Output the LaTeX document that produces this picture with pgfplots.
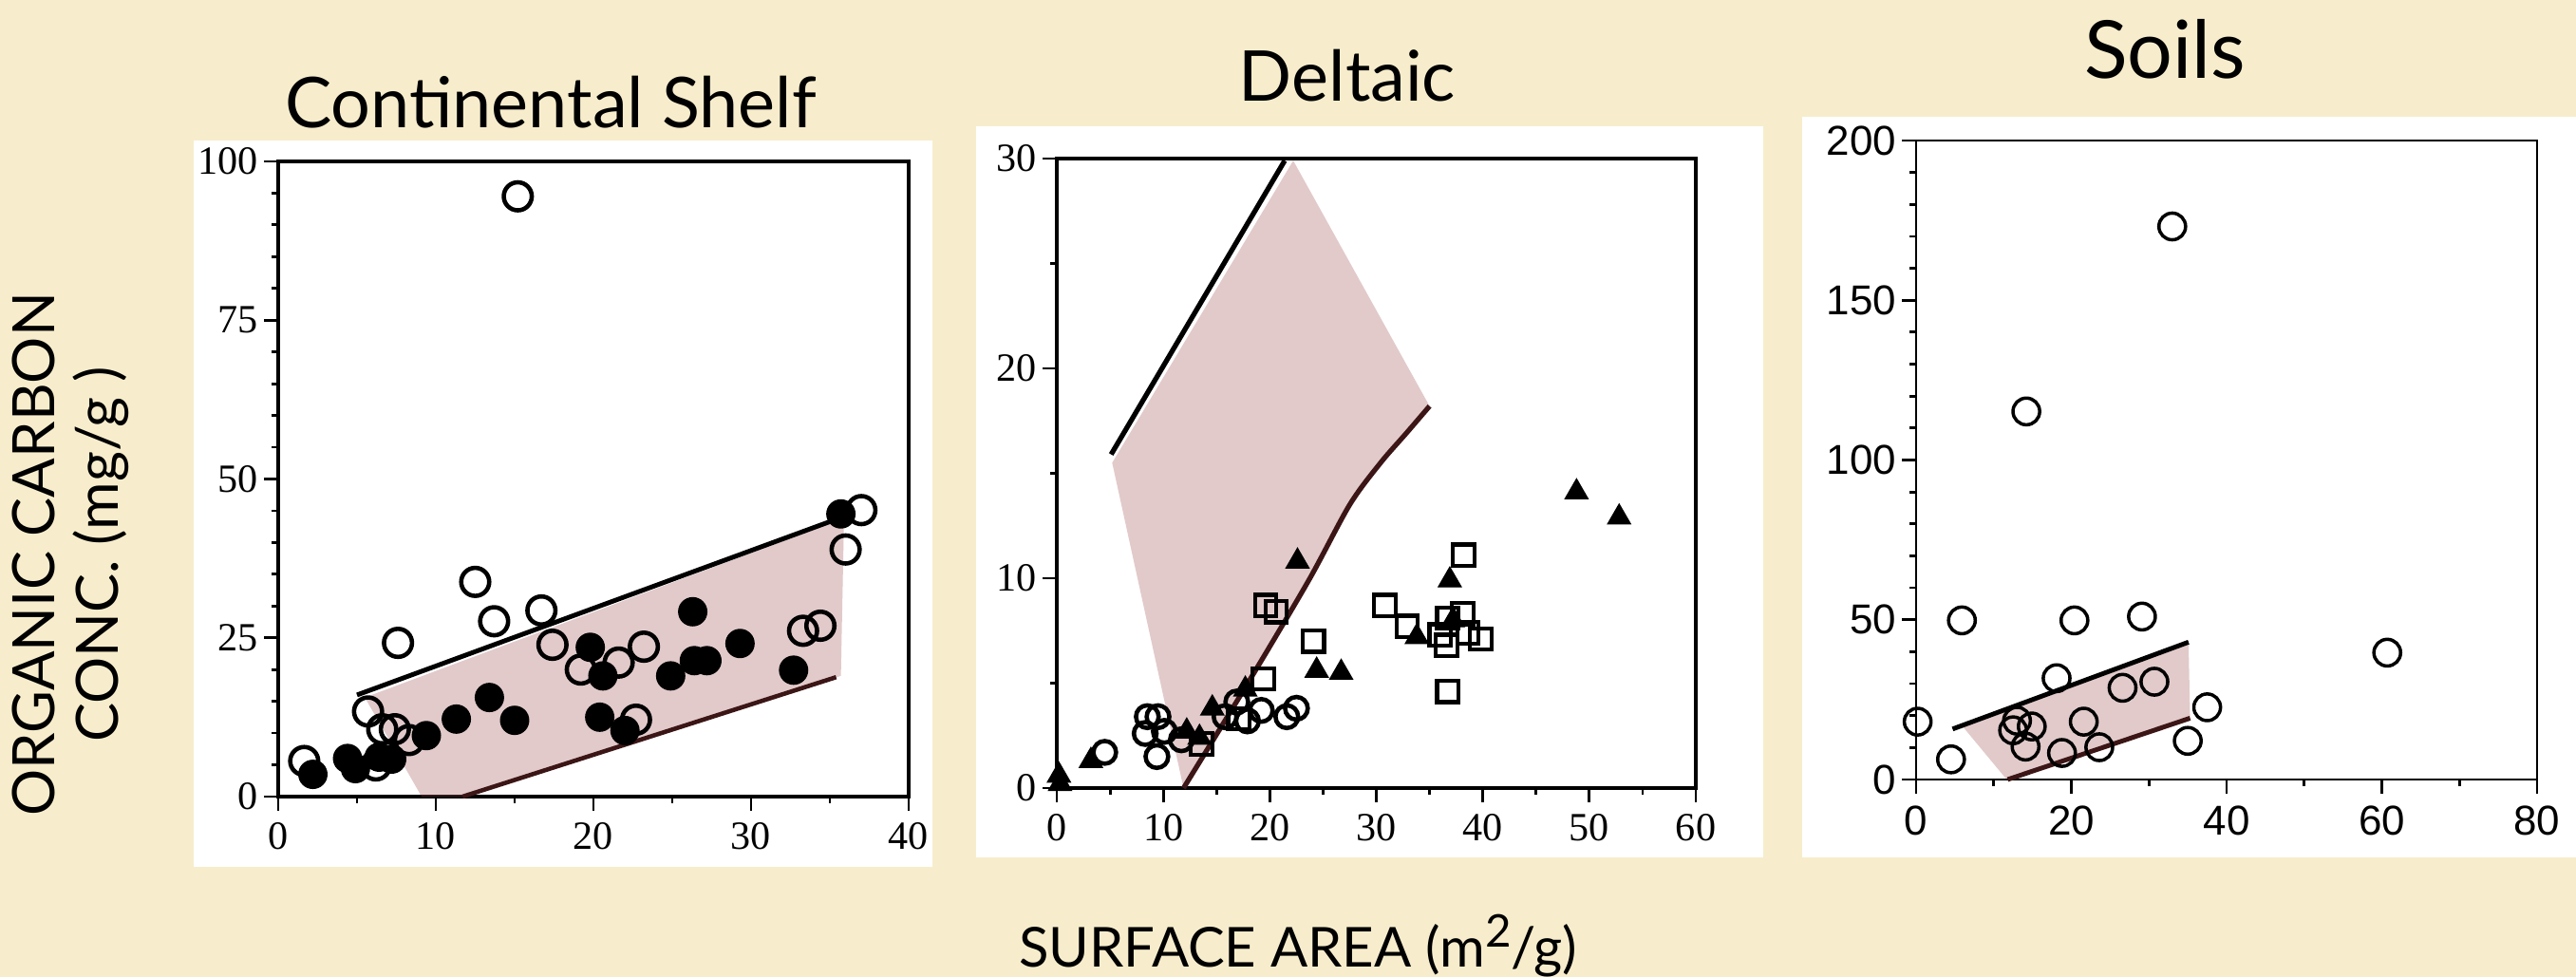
\documentclass[border=0pt]{standalone}
\usepackage{fontspec}
\setmainfont{Lato}
\newfontfamily\tickserif{Liberation Serif}
\newfontfamily\ticksans{Liberation Sans}
\usepackage{pgfplots}
\pgfplotsset{compat=1.18}

\definecolor{bgbeige}{RGB}{247,237,204}
\definecolor{shade}{RGB}{160,80,80}
\definecolor{darkline}{RGB}{60,22,22}

\pgfplotsset{
  panel/.style={
    scale only axis, clip=false, anchor=south west,
    axis line style={line width=0.9pt},
    tick align=outside, xtick pos=left, ytick pos=left,
    major tick length=0.15cm, minor tick length=0.07cm,
    tick style={line width=0.8pt, black},
    /pgf/number format/assume math mode=true,
    tick label style={font=\tickserif\fontsize{12}{12}\selectfont},
    yticklabel style={inner sep=1.5pt},
  },
  ocirc/.style={only marks, mark=o, mark size=4.2pt, mark options={line width=1.3pt}, black},
  fcirc/.style={only marks, mark=*, mark size=4.2pt, black},
  band/.style={draw=none, fill=shade, fill opacity=0.3, forget plot},
}

\begin{document}
\begin{tikzpicture}
\useasboundingbox (0,0) rectangle (27.13,10.29);
\fill[bgbeige] (0,0) rectangle (27.13,10.29);
\fill[white] (2.04,1.16) rectangle (9.82,8.81);
\fill[white] (10.28,1.26) rectangle (18.57,8.96);
\fill[white] (18.98,1.26) rectangle (27.13,9.06);

% Continental shelf
\begin{axis}[panel, at={(2.93cm,1.90cm)}, width=6.64cm, height=6.69cm,
  xmin=0, xmax=40, ymin=0, ymax=100,
  xtick={0,10,20,30,40}, ytick={0,25,50,75,100},
  minor xtick={5,15,25,35}, minor ytick={5,10,15,20,30,35,40,45,55,60,65,70,80,85,90,95}]
  \addplot[ocirc] coordinates {
    (15.2,94.5) (1.65,5.6) (7.6,24.2) (12.5,33.8) (13.7,27.6) (16.7,29.3)
    (17.4,23.9) (5.7,13.4) (6.6,10.6) (7.4,10.6) (8.3,8.9) (6.2,4.9)
    (19.2,20.0) (21.6,21.1) (23.2,23.6) (22.7,12.1) (33.3,26.1) (34.4,26.9)
    (36.0,38.9) (37.0,45.1)
  };
  \addplot[fcirc] coordinates {
    (2.2,3.5) (4.4,6.0) (4.9,4.4) (6.4,6.2) (7.2,5.9) (9.4,9.6) (11.3,12.2)
    (13.4,15.6) (15.0,12.0) (19.8,23.5) (20.4,12.5) (20.6,19.0) (22.0,10.4)
    (24.9,19.0) (26.3,29.1) (26.4,21.4) (27.2,21.4) (29.3,24.1) (32.7,19.9)
    (35.7,44.5)
  };
  \addplot[band] coordinates {
    (5.5,15.6) (9.1,0) (11.7,0) (35.7,19.0) (35.9,43.8)
  } -- cycle;
  \addplot[black, line width=1.4pt] coordinates {(5.0,16.0) (35.9,44.1)};
  \addplot[darkline, line width=1.3pt] coordinates {(11.7,0) (35.4,18.8)};
\end{axis}

% Deltaic
\begin{axis}[panel, at={(11.13cm,1.99cm)}, width=6.73cm, height=6.63cm,
  xmin=0, xmax=60, ymin=0, ymax=30,
  xtick={0,10,...,60}, ytick={0,10,20,30},
  minor xtick={5,15,...,55}, minor ytick={5,15,25}]
  \addplot[only marks, mark=triangle*, mark size=3.9pt, black] coordinates {
    (0.2,0.6) (0.3,0.2) (3.2,1.3) (22.6,10.8) (36.9,9.9) (48.8,14.1) (52.8,12.9)
    (24.4,5.6) (26.7,5.5) (33.8,7.2) (14.6,3.8) (12.2,2.7) (13.4,2.4) (17.7,4.7)
    (37.2,8.0)
  };
  \addplot[only marks, mark=o, mark size=3.4pt, mark options={line width=1.3pt}, black] coordinates {
    (4.5,1.7) (8.5,3.4) (9.5,3.4) (8.3,2.6) (9.4,1.5) (10.1,2.7) (16.9,4.1)
    (17.9,3.2) (19.2,3.7) (21.6,3.4) (22.5,3.8) (11.7,2.3) (15.8,3.4)
  };
  \addplot[only marks, mark=square, mark size=3.2pt, mark options={line width=1.2pt}, black] coordinates {
    (19.6,8.7) (20.6,8.4) (19.4,5.2) (17.1,3.3) (24.1,7.0) (30.8,8.7) (32.9,7.7)
    (38.2,11.1) (36.7,8.1) (38.1,8.3) (36.6,6.8) (38.6,7.4) (39.8,7.1) (36.7,4.6)
    (36.0,7.3) (13.6,2.1)
  };
  \addplot[band] coordinates {
    (5.2,15.5) (22.2,29.9) (35.0,18.2) (32.8,16.9) (30.4,15.5) (27.5,13.5)
    (23.6,9.85) (17.7,4.8) (11.9,0)
  } -- cycle;
  \addplot[black, line width=1.5pt] coordinates {(5.1,15.9) (21.4,29.9)};
  \addplot[darkline, line width=1.5pt, smooth] coordinates {
    (11.9,0) (17.7,4.8) (23.6,9.85) (27.5,13.5) (30.4,15.5) (32.8,16.9) (35.0,18.2)
  };
\end{axis}

% Soils
\begin{axis}[panel, at={(20.18cm,2.08cm)}, width=6.54cm, height=6.73cm,
  xmin=0, xmax=80, ymin=0, ymax=200,
  xtick={0,20,...,80}, ytick={0,50,...,200},
  minor xtick={10,30,50,70}, minor ytick={10,20,...,190},
  axis line style={line width=0.7pt},
  tick label style={font=\ticksans\fontsize{12.5}{12.5}\selectfont}]
  \addplot[only marks, mark=o, mark size=4pt, mark options={line width=1pt}, black] coordinates {
    (33.0,173.1) (14.2,115.2) (5.9,49.8) (20.4,49.8) (29.1,51.0) (60.7,39.7)
    (0.2,18.1) (4.5,6.3) (18.1,31.7) (13.0,18.4) (12.5,15.4) (14.9,16.6)
    (14.1,10.3) (18.8,8.3) (21.6,18.1) (23.6,10.1) (26.6,28.7) (30.7,30.6)
    (35.0,12.1) (37.5,22.6)
  };
  \addplot[band] coordinates {
    (6.1,16.3) (11.5,0.5) (11.8,0) (35.3,19.2) (35.1,42.3)
  } -- cycle;
  \addplot[black, line width=1.4pt] coordinates {(4.7,15.8) (35.1,43.0)};
  \addplot[darkline, line width=1.4pt] coordinates {(11.8,0) (35.3,19.2)};
\end{axis}

% titles and shared labels
\node[anchor=base, font=\fontsize{21}{21}\selectfont] at (5.80,8.94) {Continental Shelf};
\node[anchor=base, font=\fontsize{21}{21}\selectfont] at (14.19,9.22) {Deltaic};
\node[anchor=base, font=\fontsize{24}{24}\selectfont] at (22.80,9.46) {Soils};
\node[rotate=90, align=center, font=\fontsize{17.5}{19}\selectfont] at (0.74,4.45)
  {ORGANIC CARBON\\CONC. (mg/g )};
\node[anchor=base, font=\fontsize{16.5}{16.5}\selectfont] at (13.67,0.10)
  {SURFACE AREA (m{\fontsize{13.5}{13.5}\selectfont\raisebox{0.45em}{2}}/g)};
\end{tikzpicture}
\end{document}
